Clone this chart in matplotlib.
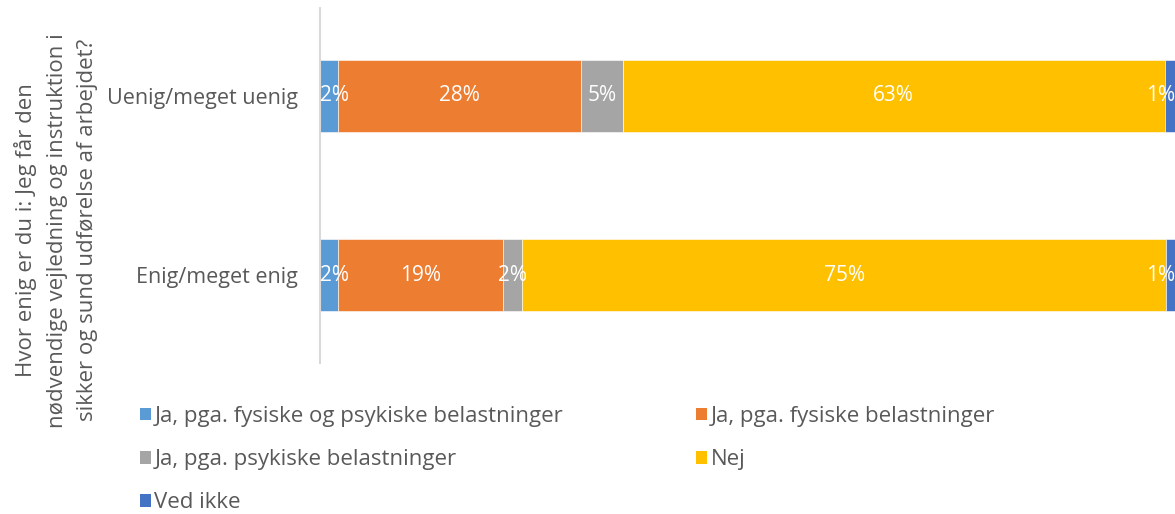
import matplotlib.pyplot as plt
from matplotlib.patches import Patch

plt.rcParams["font.family"] = ["Open Sans", "DejaVu Sans"]

categories = ["Enig/meget enig", "Uenig/meget uenig"]
series_names = [
    "Ja, pga. fysiske og psykiske belastninger",
    "Ja, pga. fysiske belastninger",
    "Ja, pga. psykiske belastninger",
    "Nej",
    "Ved ikke",
]
fys_psyk = [2.1, 2.1]
fysisk = [19.3, 28.4]
psykisk = [2.2, 4.9]
nej = [75.4, 63.4]
ved_ikke = [1.0, 1.2]

colors = ["#5B9BD5", "#ED7D31", "#A5A5A5", "#FFC000", "#4472C4"]
grey = "#595959"

series = [fys_psyk, fysisk, psykisk, nej, ved_ikke]

fig = plt.figure(figsize=(11.75, 5.14), dpi=100)
ax = fig.add_axes([0.2723, 0.294, 0.7277, 0.69])

y = range(len(categories))
left = [0.0] * len(categories)
for s, (vals, col) in enumerate(zip(series, colors)):
    ax.barh(y, vals, left=left, height=0.4, color=col, edgecolor="white", linewidth=0.4)
    for i, v in enumerate(vals):
        label = f"{round(v):.0f}%"
        if s == 0:
            ax.text(left[i], i, label, ha="left", va="center", color="white", fontsize=15)
        elif s == len(series) - 1:
            ax.text(left[i] + v, i, label, ha="right", va="center", color="white", fontsize=15)
        else:
            ax.text(left[i] + v / 2, i, label, ha="center", va="center", color="white", fontsize=15)
    left = [l + v for l, v in zip(left, vals)]

ax.set_xlim(0, 100)
ax.set_ylim(-0.49, 1.49)
ax.set_yticks(list(y))
ax.set_yticklabels(categories, fontsize=15.5, color=grey)
ax.tick_params(axis="y", length=0, pad=16)
ax.set_xticks([])
for side in ["top", "right", "bottom"]:
    ax.spines[side].set_visible(False)
ax.spines["left"].set_color("#D9D9D9")
ax.spines["left"].set_linewidth(1.5)

fig.text(0.048, 0.552,
         "Hvor enig er du i: Jeg får den\nnødvendige vejledning og instruktion i\nsikker og sund udførelse af arbejdet?",
         rotation=90, ha="center", va="center", multialignment="center",
         fontsize=16, color=grey, linespacing=1.6)

handles = [Patch(facecolor=c, edgecolor="none") for c in colors]
order = [0, 2, 4, 1, 3]
leg = fig.legend([handles[i] for i in order], [series_names[i] for i in order],
                 ncol=2, loc="upper left", bbox_to_anchor=(0.102, 0.249),
                 frameon=False, fontsize=16, handlelength=0.5, handleheight=0.5,
                 handletextpad=0.15, labelspacing=1.0, columnspacing=6.0)
for t in leg.get_texts():
    t.set_color(grey)

fig.savefig("out.png", dpi=100)
